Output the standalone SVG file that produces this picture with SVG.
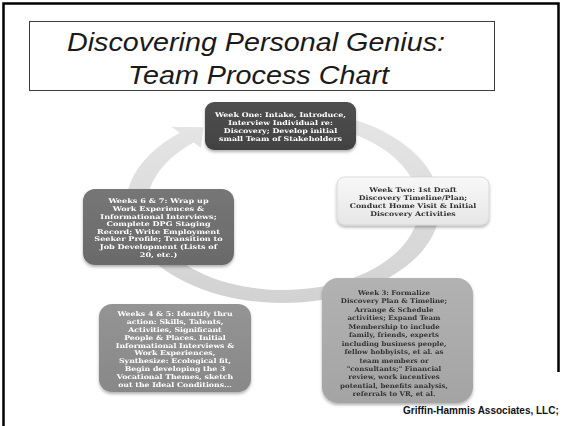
<svg xmlns="http://www.w3.org/2000/svg" width="563" height="426" viewBox="0 0 563 426">
  <style>
    .title { font-family: "Liberation Sans", Arial, sans-serif; font-style: italic; font-size: 25.5px; fill: #1a1a1a; }
    .lbl { font-family: "DejaVu Serif", "Liberation Serif", serif; font-weight: bold; font-size: 6.5px; text-anchor: middle; }
    .light { fill: #ffffff; }
    .dark { fill: #333333; }
    .footer { font-family: "Liberation Sans", Arial, sans-serif; font-weight: bold; font-size: 10px; fill: #111111; }
  </style>
  <defs>
    <filter id="shadow" x="-20%" y="-20%" width="140%" height="150%">
      <feDropShadow dx="0" dy="2" stdDeviation="1.6" flood-color="#000000" flood-opacity="0.3"/>
    </filter>
    <linearGradient id="ringFill" x1="0" y1="0" x2="0" y2="1">
      <stop offset="0" stop-color="#e6e6e6"/>
      <stop offset="1" stop-color="#d2d2d2"/>
    </linearGradient>
    <linearGradient id="g1" x1="0" y1="0" x2="0" y2="1">
      <stop offset="0" stop-color="#505050"/>
      <stop offset="1" stop-color="#424242"/>
    </linearGradient>
    <linearGradient id="g2" x1="0" y1="0" x2="0" y2="1">
      <stop offset="0" stop-color="#f8f8f8"/>
      <stop offset="1" stop-color="#e6e6e6"/>
    </linearGradient>
    <linearGradient id="g3" x1="0" y1="0" x2="0" y2="1">
      <stop offset="0" stop-color="#b2b2b2"/>
      <stop offset="1" stop-color="#a4a4a4"/>
    </linearGradient>
    <linearGradient id="g45" x1="0" y1="0" x2="0" y2="1">
      <stop offset="0" stop-color="#949494"/>
      <stop offset="1" stop-color="#888888"/>
    </linearGradient>
    <linearGradient id="g67" x1="0" y1="0" x2="0" y2="1">
      <stop offset="0" stop-color="#767676"/>
      <stop offset="1" stop-color="#6a6a6a"/>
    </linearGradient>
  </defs>

  <rect width="563" height="426" fill="#ffffff"/>

  <!-- slide frame; the lower right corner is left open for the credit line -->
  <path d="M3.5 440 V3.5 H558.5 V372" fill="none" stroke="#000000" stroke-width="2.5"/>

  <!-- title -->
  <g id="title">
    <rect x="29.5" y="21.5" width="465" height="69" fill="#ffffff" stroke="#3c3c3c" stroke-width="1"/>
    <text class="title" x="256" y="50.5" text-anchor="middle" textLength="378" lengthAdjust="spacingAndGlyphs">Discovering Personal Genius:</text>
    <text class="title" x="258.5" y="84" text-anchor="middle" textLength="261" lengthAdjust="spacingAndGlyphs">Team Process Chart</text>
  </g>

  <!-- circular flow arrow, drawn as a circle stretched horizontally -->
  <g id="connectors">
    <g transform="translate(283 206) scale(1.62 1)">
      <path fill="url(#ringFill)" d="M -25.10 -93.69 A 97 97 0 1 1 -63.64 -73.21 L -68.89 -79.24 L -49.28 -78.87 L -50.52 -58.11 L -55.11 -63.39 A 84 84 0 1 0 -21.74 -81.14 Z"/>
    </g>
  </g>

  <!-- node labels are set in a compact serif and widened to fill each box -->
  <g id="week-one" filter="url(#shadow)">
    <rect x="205" y="102" width="151" height="48" rx="9" fill="url(#g1)"/>
    <g class="lbl light" transform="translate(280.5 0) scale(1.22 1)">
      <text x="0" y="117.5">Week One: Intake, Introduce,</text>
      <text x="0" y="125.3">Interview Individual re:</text>
      <text x="0" y="133">Discovery; Develop initial</text>
      <text x="0" y="141">small Team of Stakeholders</text>
    </g>
  </g>

  <g id="week-two" filter="url(#shadow)">
    <rect x="337" y="177" width="152" height="48" rx="8" fill="url(#g2)" stroke="#d4d4d4" stroke-width="0.8"/>
    <g class="lbl dark" transform="translate(413 0) scale(1.2 1)">
      <text x="0" y="192.5">Week Two:  1st Draft</text>
      <text x="0" y="200.2">Discovery Timeline/Plan;</text>
      <text x="0" y="207.9">Conduct Home Visit &amp; Initial</text>
      <text x="0" y="215.6">Discovery Activities</text>
    </g>
  </g>

  <g id="week-three" filter="url(#shadow)">
    <rect x="322" y="278" width="151" height="125" rx="16" fill="url(#g3)"/>
    <g class="lbl dark" transform="translate(394 0) scale(1.08 1)">
      <text x="0" y="295">Week 3: Formalize</text>
      <text x="0" y="303.45">Discovery Plan &amp; Timeline;</text>
      <text x="0" y="311.9">Arrange &amp; Schedule</text>
      <text x="0" y="320.35">activities; Expand Team</text>
      <text x="0" y="328.8">Membership  to include</text>
      <text x="0" y="337.25">family, friends, experts</text>
      <text x="0" y="345.7">including business people,</text>
      <text x="0" y="354.15">fellow hobbyists, et al. as</text>
      <text x="0" y="362.6">team members or</text>
      <text x="0" y="371.05">"consultants;" Financial</text>
      <text x="0" y="379.5">review, work incentives</text>
      <text x="0" y="387.95">potential, benefits analysis,</text>
      <text x="0" y="396.4">referrals to VR, et al.</text>
    </g>
  </g>

  <g id="weeks-four-five" filter="url(#shadow)">
    <rect x="99" y="304" width="152" height="88" rx="13" fill="url(#g45)"/>
    <g class="lbl light" transform="translate(175 0) scale(1.2 1)">
      <text x="0" y="316.5">Weeks 4 &amp; 5: Identify thru</text>
      <text x="0" y="324.3">action: Skills, Talents,</text>
      <text x="0" y="332.1">Activities, Significant</text>
      <text x="0" y="339.9">People &amp; Places. Initial</text>
      <text x="0" y="347.7">Informational Interviews &amp;</text>
      <text x="0" y="355.5">Work Experiences,</text>
      <text x="0" y="363.3">Synthesize: Ecological fit,</text>
      <text x="0" y="371.1">Begin developing the 3</text>
      <text x="0" y="378.9">Vocational Themes, sketch</text>
      <text x="0" y="386.7">out the Ideal Conditions…</text>
    </g>
  </g>

  <g id="weeks-six-seven" filter="url(#shadow)">
    <rect x="83" y="189" width="151" height="76" rx="12" fill="url(#g67)"/>
    <g class="lbl light" style="font-size:6.4px" transform="translate(158.5 0) scale(1.27 1)">
      <text x="0" y="203.5">Weeks 6 &amp; 7:  Wrap up</text>
      <text x="0" y="211.1">Work Experiences &amp;</text>
      <text x="0" y="218.7">Informational Interviews;</text>
      <text x="0" y="226.3">Complete DPG Staging</text>
      <text x="0" y="233.9">Record; Write Employment</text>
      <text x="0" y="241.5">Seeker Profile; Transition to</text>
      <text x="0" y="249.1">Job Development (Lists of</text>
      <text x="0" y="256.7">20, etc.)</text>
    </g>
  </g>

  <text class="footer" x="403" y="414.3">Griffin-Hammis Associates, LLC;</text>
</svg>
